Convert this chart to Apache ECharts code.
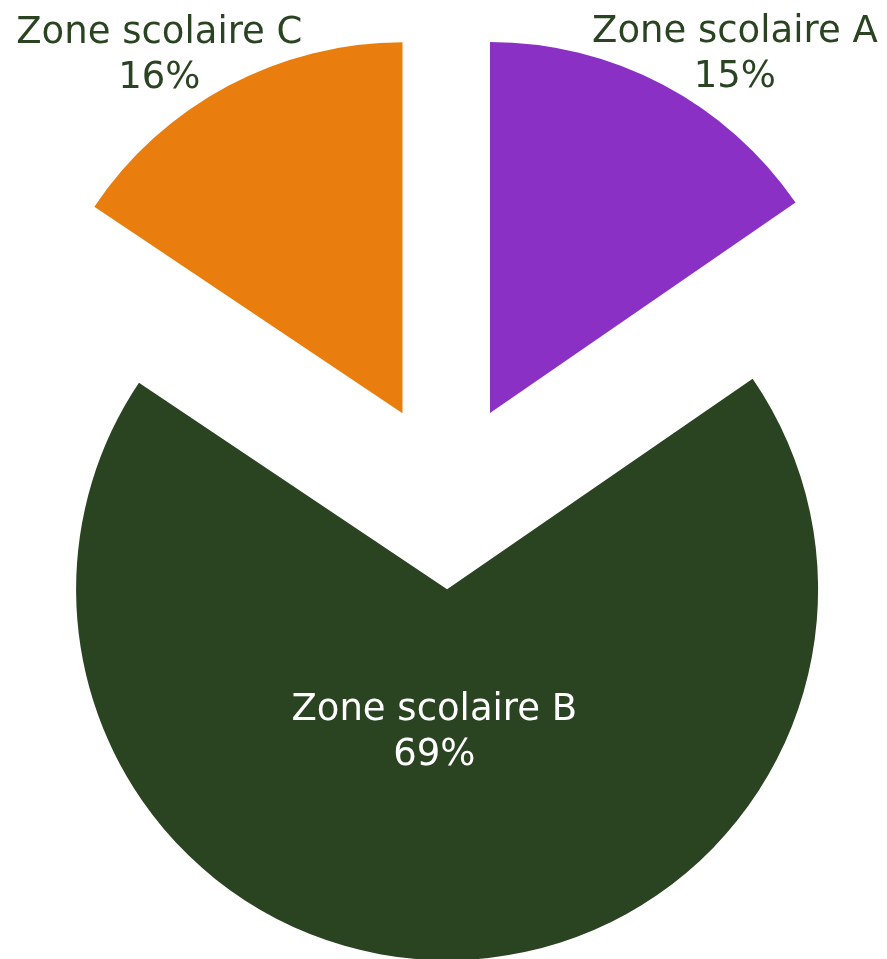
<!DOCTYPE html>
<html>
<head>
<meta charset="utf-8">
<script src="https://cdn.jsdelivr.net/npm/echarts@6/dist/echarts.min.js"></script>
<style>
html,body{margin:0;padding:0;background:#fff;}
#chart{width:887px;height:959px;}
</style>
</head>
<body>
<div id="chart"></div>
<script>
const categories = ['Zone scolaire A', 'Zone scolaire B', 'Zone scolaire C'];
const values = [15.4, 69.0, 15.6];
const colors = ['#8B30C4', '#2A4422', '#E97E0F'];
const labelColors = ['#2A4422', '#ffffff', '#2A4422'];

const chart = echarts.init(document.getElementById('chart'), null, {renderer: 'canvas'});
const FONT = '"DejaVu Sans"';
const lineLen2 = [51, 0, 47];
const data = categories.map((name, i) => {
  const item = {
    name: name,
    value: values[i],
    selected: true,
    itemStyle: {color: colors[i]},
    label: {color: labelColors[i]}
  };
  if (i === 1) {
    item.label.position = 'inside';
    item.label.padding = [0, 28, 90, 0];
  } else {
    item.label.position = 'outside';
    item.labelLine = {show: false, length: 34, length2: lineLen2[i]};
  }
  return item;
});

chart.setOption({
  animation: false,
  series: [{
    type: 'pie',
    center: [446.5, 495.8],
    radius: 371,
    startAngle: 90,
    clockwise: true,
    selectedMode: 'multiple',
    selectedOffset: 93.5,
    avoidLabelOverlap: false,
    percentPrecision: 0,
    silent: true,
    label: {
      show: true,
      formatter: '{t|{b}}\n{t|{d}%}',
      rich: {
        t: {
          width: 1,
          align: 'center',
          fontFamily: FONT,
          fontSize: 37,
          lineHeight: 45
        }
      }
    },
    labelLine: {show: false},
    data: data
  }]
});
</script>
</body>
</html>
